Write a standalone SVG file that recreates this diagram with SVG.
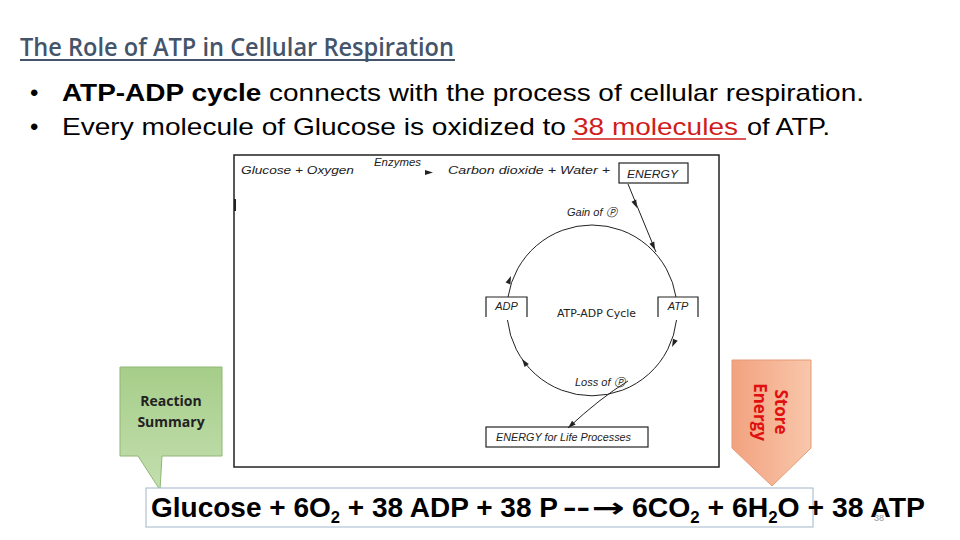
<svg xmlns="http://www.w3.org/2000/svg" xmlns:xlink="http://www.w3.org/1999/xlink" width="960" height="540" viewBox="0 0 960 540">
<defs>
<style>
.sm{font-family:"Liberation Sans",Arial,sans-serif;font-size:11px;fill:#222;font-style:italic}
.bul{font-family:"Liberation Sans",Arial,sans-serif;font-size:24px;fill:#000}
.eq{font-family:"Liberation Sans",Arial,sans-serif;font-size:27px;font-weight:bold;fill:#000}
.ln{fill:none;stroke:#222;stroke-width:1}
.bx{fill:#fff;stroke:#222;stroke-width:1.2}
.ah{fill:#222}
</style>
<path id="ah" d="M0,0 L-8,-2.6 L-8,2.6 Z"/>
<linearGradient id="gG" x1="0" y1="0" x2="0" y2="1">
<stop offset="0" stop-color="#a6cd89"/><stop offset="1" stop-color="#c3dfaf"/>
</linearGradient>
<linearGradient id="gO" x1="0" y1="0" x2="1" y2="0">
<stop offset="0" stop-color="#f2a27f"/><stop offset="1" stop-color="#f8c7ab"/>
</linearGradient>
</defs>
<rect width="960" height="540" fill="#fff"/>

<g id="title">
<text x="20" y="56" font-family="Open Sans, Liberation Sans, sans-serif" font-size="25" font-weight="600" fill="#44546a" textLength="434" lengthAdjust="spacingAndGlyphs">The Role of ATP in Cellular Respiration</text>
<line x1="20" y1="60" x2="455" y2="60" stroke="#44546a" stroke-width="1.8"/>
</g>

<g id="bullets">
<text x="30" y="101" class="bul">•</text>
<text x="62" y="101" class="bul" textLength="802" lengthAdjust="spacingAndGlyphs"><tspan font-weight="bold">ATP-ADP cycle</tspan> connects with the process of cellular respiration.</text>
<text x="30" y="135" class="bul">•</text>
<text x="62" y="135" class="bul" textLength="504" lengthAdjust="spacingAndGlyphs">Every molecule of Glucose is oxidized to</text>
<text x="573" y="135" class="bul" textLength="165" lengthAdjust="spacingAndGlyphs" style="fill:#d01c1c">38 molecules</text>
<text x="747" y="135" class="bul" textLength="83" lengthAdjust="spacingAndGlyphs">of ATP.</text>
<line x1="572" y1="139" x2="746" y2="139" stroke="#d01c1c" stroke-width="1.6"/>
</g>

<g id="figure">
<rect x="234" y="155" width="485" height="312" fill="#fff" stroke="#222" stroke-width="1.5"/>
<line x1="235" y1="199" x2="235" y2="211" stroke="#222" stroke-width="2"/>
</g>

<g id="reaction-line">
<text x="241" y="174" class="sm" textLength="113" lengthAdjust="spacingAndGlyphs">Glucose + Oxygen</text>
<text x="374" y="166" class="sm" font-size="10" textLength="47" lengthAdjust="spacingAndGlyphs">Enzymes</text>
<text x="448" y="174" class="sm" textLength="162" lengthAdjust="spacingAndGlyphs">Carbon dioxide  + Water +</text>
</g>

<g id="energy">
<rect x="619" y="163" width="69" height="20" class="bx"/>
<text x="627" y="178" class="sm" font-size="12" textLength="51" lengthAdjust="spacingAndGlyphs">ENERGY</text>
</g>

<g id="adp">
<path d="M486,317 V297 H527 V317" class="bx"/>
<text x="506.5" y="310" class="sm" text-anchor="middle" font-size="10.5">ADP</text>
</g>

<g id="atp">
<path d="M658,317 V297 H698 V317" class="bx"/>
<text x="678" y="310" class="sm" text-anchor="middle" font-size="10.5">ATP</text>
</g>

<g id="cycle-label">
<text x="557" y="317" font-family="DejaVu Sans, Liberation Sans, sans-serif" font-size="10.5" fill="#222" textLength="79" lengthAdjust="spacingAndGlyphs">ATP-ADP Cycle</text>
</g>

<g id="life">
<rect x="486" y="427" width="162" height="20" class="bx"/>
<text x="496" y="441" class="sm" font-size="10.5" textLength="135" lengthAdjust="spacingAndGlyphs">ENERGY for Life Processes</text>
</g>

<g id="connectors">
<path d="M508,297 A85,85 0 0 1 676,297" class="ln"/>
<path d="M676.5,320 A85,85 0 0 1 507.5,320" class="ln"/>
<line x1="628" y1="184" x2="656" y2="252" class="ln"/>
<path d="M628,381 Q600,398 568,428" class="ln"/>
<use href="#ah" class="ah" transform="translate(511,276) rotate(-68)"/>
<use href="#ah" class="ah" transform="translate(672,347) rotate(115)"/>
<use href="#ah" class="ah" transform="translate(522,359) rotate(-126)"/>
<use href="#ah" class="ah" transform="translate(637,208) rotate(67)"/>
<use href="#ah" class="ah" transform="translate(655,250) rotate(67)"/>
<use href="#ah" class="ah" transform="translate(568,428) rotate(137)"/>
<path d="M425,170 L433,172.5 L425,175 Z" class="ah"/>
<text x="567" y="216" class="sm" font-size="10.5">Gain of Ⓟ</text>
<text x="575" y="386" class="sm" font-size="10.5">Loss of Ⓟ</text>
</g>

<g id="reaction-summary">
<path d="M120,367 H222 V456 H162 L160,490 L138,456 H120 Z" fill="url(#gG)" stroke="#90b776" stroke-width="1"/>
<text x="171" y="406" font-family="Open Sans, Liberation Sans, sans-serif" font-size="14" font-weight="bold" fill="#222" text-anchor="middle">Reaction</text>
<text x="171" y="427" font-family="Open Sans, Liberation Sans, sans-serif" font-size="14" font-weight="bold" fill="#222" text-anchor="middle">Summary</text>
</g>

<g id="store-energy">
<path d="M732,360 H811 V448 L772,486 L732,448 Z" fill="url(#gO)" stroke="#e59a76" stroke-width="1"/>
<g transform="translate(770,412) rotate(90)" font-family="Open Sans, Liberation Sans, sans-serif" font-size="17" font-weight="bold" fill="#e01010" text-anchor="middle">
<text x="0" y="-5">Store</text>
<text x="0" y="16">Energy</text>
</g>
</g>

<g id="equation">
<rect x="146" y="488" width="667" height="39" fill="#fff" stroke="#9fb6cc" stroke-width="1"/>
<text x="151" y="517" class="eq" textLength="407" lengthAdjust="spacingAndGlyphs">Glucose + 6O<tspan font-size="16" dy="6">2</tspan><tspan dy="-6"> + 38 ADP + 38 P</tspan></text>
<text x="563" y="517" class="eq" textLength="27" lengthAdjust="spacingAndGlyphs">--</text>
<text x="592" y="517" font-family="DejaVu Sans, sans-serif" font-size="27" font-weight="bold" textLength="33" lengthAdjust="spacingAndGlyphs">→</text>
<text x="632" y="517" class="eq" textLength="293" lengthAdjust="spacingAndGlyphs">6CO<tspan font-size="16" dy="6">2</tspan><tspan dy="-6"> + 6H</tspan><tspan font-size="16" dy="6">2</tspan><tspan dy="-6">O + 38 ATP</tspan></text>
<text x="874" y="521" font-family="Liberation Sans, Arial, sans-serif" font-size="9" fill="#999">38</text>
</g>
</svg>
